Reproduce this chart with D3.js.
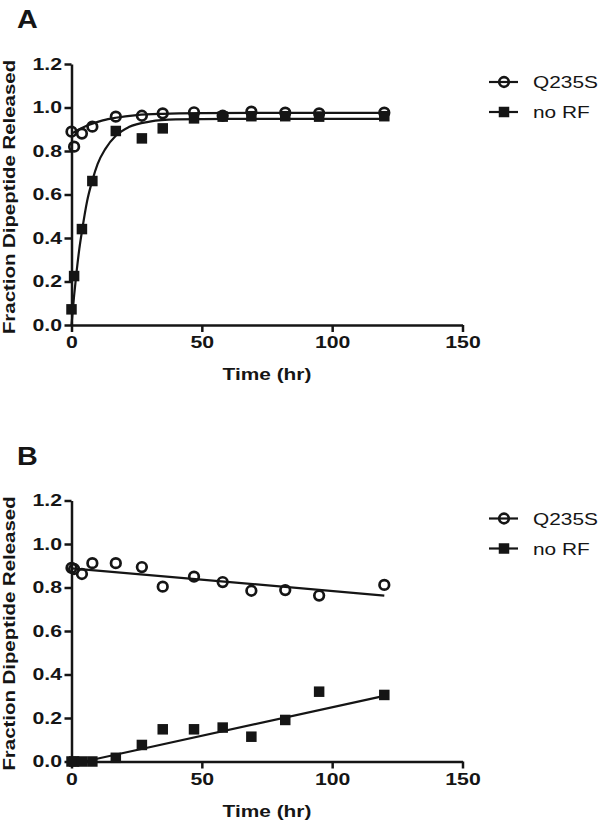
<!DOCTYPE html>
<html><head><meta charset="utf-8">
<script src="https://cdn.jsdelivr.net/npm/d3@7"></script>
<style>
html,body{margin:0;padding:0;background:#fff;}
svg{display:block;font-family:"Liberation Sans",Arial,sans-serif;}
</style></head>
<body>
<svg id="chart" width="604" height="829"></svg>
<script>
// ---- data ----
const time = [0, 1, 4, 8, 17, 27, 35, 47, 58, 69, 82, 95, 120];
const seriesNames = ["Q235S", "no RF"];
const xTicks = [0, 50, 100, 150];
const yTicks = [0.0, 0.2, 0.4, 0.6, 0.8, 1.0, 1.2];

const A_Q235S = [0.889, 0.82, 0.88, 0.912, 0.958, 0.962, 0.973, 0.978, 0.962, 0.981, 0.976, 0.973, 0.976];
const A_noRF  = [0.072, 0.225, 0.441, 0.662, 0.892, 0.858, 0.904, 0.95, 0.958, 0.96, 0.96, 0.958, 0.96];
const B_Q235S = [0.89, 0.885, 0.862, 0.912, 0.912, 0.894, 0.804, 0.85, 0.825, 0.785, 0.788, 0.763, 0.812];
const B_noRF  = [0, 0, 0, 0, 0.017, 0.076, 0.148, 0.148, 0.156, 0.114, 0.191, 0.321, 0.306];

// fitted curves: [time, value]
const A_fit_Q235S = [[0,0.880],[2,0.893],[4,0.906],[6,0.917],[8,0.926],[12,0.941],[17,0.953],[25,0.965],[35,0.971],[50,0.974],[70,0.975],[120,0.975]];
const A_fit_noRF  = [[0,0],[1,0.135],[2,0.25],[3,0.35],[4,0.43],[6,0.57],[8,0.665],[10,0.74],[13,0.81],[17,0.87],[22,0.91],[30,0.935],[40,0.945],[60,0.948],[120,0.948]];
const B_fit_Q235S = [[0,0.888],[120,0.763]];
const B_fit_noRF  = [[0,0],[5,0],[120,0.302]];

// ---- drawing ----
const svg = d3.select("#chart");
const INK = "#151515";
const SX = 1.25;

function panel(letter, top, q, n, fq, fn, curve) {
  const g = svg.append("g");
  const x = d3.scaleLinear().domain([0,150]).range([71.5, 462.5]);
  const y = d3.scaleLinear().domain([0,1.2]).range([top + 261, top]);

  // panel letter
  g.append("text").attr("transform", `translate(17,${top-36}) scale(1.15,1)`)
    .attr("font-size", 25).attr("font-weight", "bold").attr("fill", INK).text(letter);

  // axes
  const ya = g.append("g").attr("transform", `translate(${x(0)},0)`)
    .call(d3.axisLeft(y).tickValues(yTicks).tickFormat(d3.format(".1f")).tickSize(7).tickSizeOuter(0).tickPadding(2));
  const xa = g.append("g").attr("transform", `translate(0,${y(0)})`)
    .call(d3.axisBottom(x).tickValues(xTicks).tickFormat(d3.format("d")).tickSize(7).tickSizeOuter(0).tickPadding(4));
  [ya, xa].forEach(a => {
    a.select(".domain").attr("stroke", INK).attr("stroke-width", 2.5);
    a.selectAll(".tick line").attr("stroke", INK).attr("stroke-width", 2.5);
    a.selectAll(".tick text").attr("fill", INK).attr("font-size", 17).attr("font-weight", "bold")
      .attr("font-family", "Liberation Sans, Arial, sans-serif");
  });
  ya.selectAll(".tick text").attr("x", 0).attr("transform", `translate(-9.5,0) scale(${SX},1)`);
  xa.selectAll(".tick text").attr("transform", `scale(${SX},1)`).attr("dy", "0.71em");

  // axis titles
  g.append("text").attr("transform", `translate(14.5,${top+133}) rotate(-90) scale(1.26,1)`)
    .attr("text-anchor", "middle").attr("font-size", 16.2).attr("font-weight", "bold").attr("fill", INK)
    .text("Fraction Dipeptide Released");
  g.append("text").attr("transform", `translate(${(x(0)+x(150))/2},${y(0)+55}) scale(1.28,1)`)
    .attr("text-anchor", "middle").attr("font-size", 16.3).attr("font-weight", "bold").attr("fill", INK)
    .text("Time (hr)");

  // fit lines
  const line = d3.line().x(d => x(d[0])).y(d => y(d[1])).curve(curve);
  [fq, fn].forEach(f => g.append("path").datum(f).attr("d", line)
    .attr("fill", "none").attr("stroke", INK).attr("stroke-width", 2.2));

  // markers
  g.append("g").selectAll("circle").data(time.map((t,i) => [t, q[i]])).join("circle")
    .attr("cx", d => x(d[0])).attr("cy", d => y(d[1])).attr("r", 4.8)
    .attr("fill", "none").attr("stroke", INK).attr("stroke-width", 2.7);
  const s = 10.5;
  g.append("g").selectAll("rect").data(time.map((t,i) => [t, n[i]])).join("rect")
    .attr("x", d => x(d[0]) - s/2).attr("y", d => y(d[1]) - s/2).attr("width", s).attr("height", s)
    .attr("fill", INK);

  // legend
  const lg = g.append("g");
  seriesNames.forEach((name, i) => {
    const ly = top + 18 + i * 30;
    lg.append("line").attr("x1", 489).attr("x2", 518).attr("y1", ly).attr("y2", ly)
      .attr("stroke", INK).attr("stroke-width", 2.2);
    if (i === 0) {
      lg.append("circle").attr("cx", 504).attr("cy", ly).attr("r", 4.8)
        .attr("fill", "none").attr("stroke", INK).attr("stroke-width", 2.7);
    } else {
      lg.append("rect").attr("x", 504 - s/2).attr("y", ly - s/2).attr("width", s).attr("height", s).attr("fill", INK);
    }
    lg.append("text").attr("transform", `translate(533,${ly+6}) scale(1.28,1)`)
      .attr("font-size", 16.3).attr("fill", INK).text(name);
  });
}

panel("A", 64, A_Q235S, A_noRF, A_fit_Q235S, A_fit_noRF, d3.curveMonotoneX);
panel("B", 500.5, B_Q235S, B_noRF, B_fit_Q235S, B_fit_noRF, d3.curveLinear);
</script>
</body></html>
